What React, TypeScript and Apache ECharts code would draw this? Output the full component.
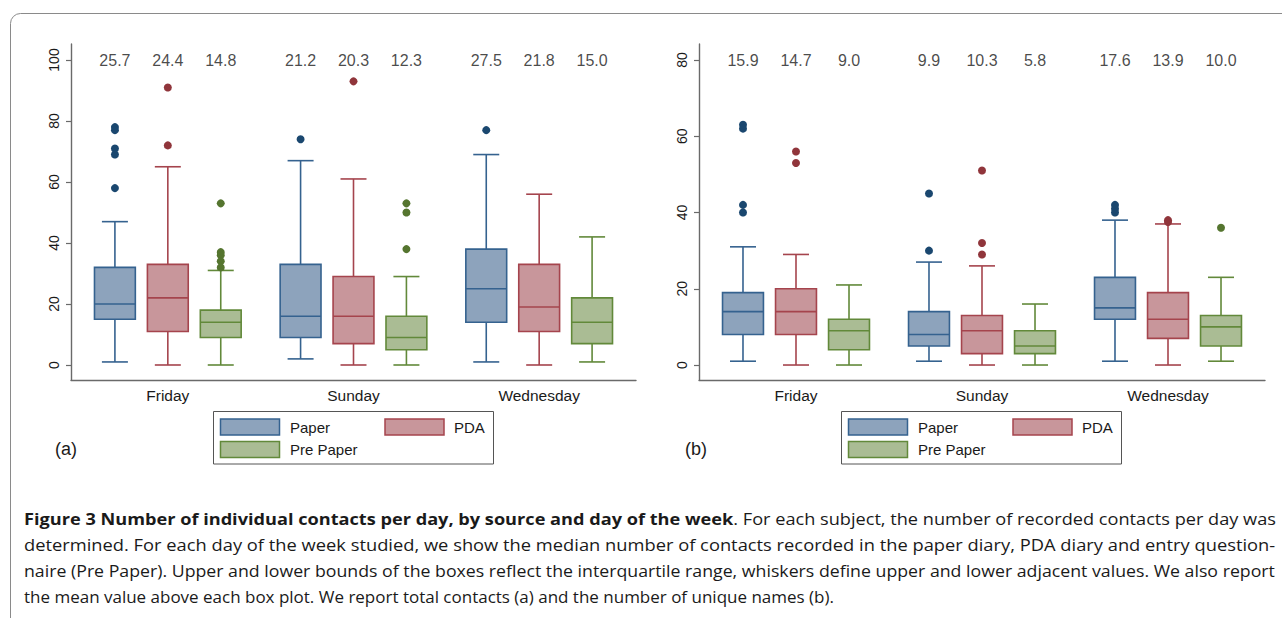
import React, { useEffect, useRef } from 'react';
import * as echarts from 'echarts';

const DAYS = ['Friday', 'Sunday', 'Wednesday'];
const SOURCES = ['Paper', 'PDA', 'Pre Paper'];

// Panel (a): total contacts. Per day (Friday, Sunday, Wednesday): [lower adjacent, Q1, median, Q3, upper adjacent]
const A_PAPER = [[1, 15, 20, 32, 47], [2, 9, 16, 33, 67], [1, 14, 25, 38, 69]];
const A_PDA = [[0, 11, 22, 33, 65], [0, 7, 16, 29, 61], [0, 11, 19, 33, 56]];
const A_PRE = [[0, 9, 14, 18, 31], [0, 5, 9, 16, 29], [1, 7, 14, 22, 42]];
const A_PAPER_OUT = [[78, 77, 71, 69, 58], [74], [77]];
const A_PDA_OUT = [[91, 72], [93], []];
const A_PRE_OUT = [[53, 37, 36, 34, 32], [53, 50, 38], []];
const A_PAPER_MEAN = [25.7, 21.2, 27.5];
const A_PDA_MEAN = [24.4, 20.3, 21.8];
const A_PRE_MEAN = [14.8, 12.3, 15.0];

// Panel (b): number of unique names
const B_PAPER = [[1, 8, 14, 19, 31], [1, 5, 8, 14, 27], [1, 12, 15, 23, 38]];
const B_PDA = [[0, 8, 14, 20, 29], [0, 3, 9, 13, 26], [0, 7, 12, 19, 37]];
const B_PRE = [[0, 4, 9, 12, 21], [0, 3, 5, 9, 16], [1, 5, 10, 13, 23]];
const B_PAPER_OUT = [[63, 62, 42, 40], [45, 30], [42, 41, 40]];
const B_PDA_OUT = [[56, 53], [51, 32, 29], [38, 37.5]];
const B_PRE_OUT = [[], [], [36]];
const B_PAPER_MEAN = [15.9, 9.9, 17.6];
const B_PDA_MEAN = [14.7, 10.3, 13.9];
const B_PRE_MEAN = [9.0, 5.8, 10.0];

const Y_TICKS_A = [0, 20, 40, 60, 80, 100];
const Y_TICKS_B = [0, 20, 40, 60, 80];

const CAPTION_BOLD = 'Figure 3 Number of individual contacts per day, by source and day of the week';
const CAPTION_LINES = [
  '. For each subject, the number of recorded contacts per day was',
  'determined. For each day of the week studied, we show the median number of contacts recorded in the paper diary, PDA diary and entry question-',
  'naire (Pre Paper). Upper and lower bounds of the boxes reflect the interquartile range, whiskers define upper and lower adjacent values. We also report',
  'the mean value above each box plot. We report total contacts (a) and the number of unique names (b).',
];

const FILL = ['#8da3bc', '#c8969b', '#aabc94'];
const LINE = ['#35628f', '#a5444d', '#62893a'];
const DOT = ['#1a476f', '#90353b', '#55752f'];
const FONT = '"Liberation Sans", Arial, sans-serif';
const CAP_FONT = '"Open Sans", "Noto Sans", sans-serif';

const OFFSET = 0.285;
const BOX_W = 0.22;
const CAP_W = 0.14;

const renderBox = (k: number) => (_params: any, api: any) => {
  const x = api.value(0);
  const p = [1, 2, 3, 4, 5].map((d) => api.coord([x, api.value(d)]));
  const w = api.size([BOX_W, 0])[0];
  const c = api.size([CAP_W, 0])[0];
  const cx = p[0][0];
  const st = { stroke: LINE[k], lineWidth: 1.6, fill: 'none' };
  return {
    type: 'group',
    children: [
      { type: 'line', shape: { x1: cx, y1: p[0][1], x2: cx, y2: p[1][1] }, style: st },
      { type: 'line', shape: { x1: cx, y1: p[3][1], x2: cx, y2: p[4][1] }, style: st },
      { type: 'line', shape: { x1: cx - c / 2, y1: p[0][1], x2: cx + c / 2, y2: p[0][1] }, style: st },
      { type: 'line', shape: { x1: cx - c / 2, y1: p[4][1], x2: cx + c / 2, y2: p[4][1] }, style: st },
      {
        type: 'rect',
        shape: { x: cx - w / 2, y: p[3][1], width: w, height: p[1][1] - p[3][1] },
        style: { fill: FILL[k], stroke: LINE[k], lineWidth: 1.6 },
      },
      { type: 'line', shape: { x1: cx - w / 2, y1: p[2][1], x2: cx + w / 2, y2: p[2][1] }, style: st },
    ],
  };
};

function panelSeries(panel: number, boxes: number[][][], outs: number[][][], means: number[][], labelY: number) {
  const out: any[] = [];
  SOURCES.forEach((src, k) => {
    const off = (k - 1) * OFFSET;
    out.push({
      type: 'custom',
      name: src,
      xAxisIndex: panel,
      yAxisIndex: panel,
      data: boxes[k].map((b, i) => [i + off, ...b]),
      renderItem: renderBox(k),
      z: 2,
    });
    out.push({
      type: 'scatter',
      name: src,
      xAxisIndex: panel,
      yAxisIndex: panel,
      data: outs[k].flatMap((vals, i) => vals.map((v) => [i + off, v])),
      symbolSize: 8,
      itemStyle: { color: DOT[k], opacity: 1 },
      z: 3,
    });
    out.push({
      type: 'scatter',
      xAxisIndex: panel,
      yAxisIndex: panel,
      data: means[k].map((m, i) => [i + off, labelY, m]),
      symbolSize: 1,
      itemStyle: { color: 'rgba(0,0,0,0)' },
      silent: true,
      label: {
        show: true,
        position: 'inside',
        formatter: (p: any) => Number(p.value[2]).toFixed(1),
        fontSize: 16,
        fontFamily: FONT,
        color: '#1a1a1a',
      },
      z: 4,
    });
  });
  return out;
}

function xAxis(gridIndex: number) {
  return {
    type: 'value',
    gridIndex,
    min: -0.5215,
    max: 2.5215,
    axisLine: { show: true, onZero: false, lineStyle: { color: '#6a6a6a', width: 1.4 } },
    axisTick: { show: false },
    splitLine: { show: false },
    axisLabel: {
      customValues: [0, 1, 2],
      formatter: (v: number) => DAYS[Math.round(v)] ?? '',
      margin: 7,
      fontSize: 15.5,
      fontFamily: FONT,
      color: '#1a1a1a',
    },
  };
}

function yAxis(gridIndex: number, min: number, max: number, ticks: number[]) {
  return {
    type: 'value',
    gridIndex,
    min,
    max,
    axisLine: { show: true, onZero: false, lineStyle: { color: '#6a6a6a', width: 1.4 } },
    axisTick: { show: true, length: 5, customValues: ticks, lineStyle: { color: '#6a6a6a', width: 1.2 } },
    splitLine: { show: false },
    axisLabel: {
      customValues: ticks,
      rotate: 90,
      margin: 10,
      fontSize: 14,
      fontFamily: FONT,
      color: '#1a1a1a',
    },
  };
}

function legendGraphics(dx: number, tag: string) {
  const t = (text: string, x: number, y: number, size: number) => ({
    type: 'text',
    x: x + dx,
    y,
    style: {
      text,
      fill: '#1a1a1a',
      font: size + 'px ' + FONT,
      align: 'left',
      verticalAlign: 'middle',
      textAlign: 'left',
      textVerticalAlign: 'middle',
    },
  });
  const sw = (k: number, x: number, y: number) => ({
    type: 'rect',
    shape: { x: x + dx, y, width: 59, height: 16 },
    style: { fill: FILL[k], stroke: LINE[k], lineWidth: 1.5 },
  });
  return [
    {
      type: 'rect',
      shape: { x: 213.5 + dx, y: 411.5, width: 280, height: 52.5 },
      style: { fill: '#fff', stroke: '#555', lineWidth: 1 },
    },
    sw(0, 220.5, 419),
    t(SOURCES[0], 290, 427.5, 15),
    sw(1, 385, 419),
    t(SOURCES[1], 454, 427.5, 15),
    sw(2, 220.5, 441.5),
    t(SOURCES[2], 290, 449.5, 15),
    t(tag, 55 + (dx === 0 ? 0 : 2), 449, 18),
  ];
}

function captionGraphics() {
  const canvas = document.createElement('canvas');
  const ctx = canvas.getContext('2d')!;
  const size = 16;
  const normalFont = `${size}px ${CAP_FONT}`;
  const boldFont = `bold ${size}px ${CAP_FONT}`;
  const left = 24;
  const fullW = 1252;
  const lastW = 810;
  const ys = [519, 545, 571, 597];
  const els: any[] = [];
  const textEl = (text: string, x: number, y: number, font: string, sx: number) => ({
    type: 'text',
    x,
    y,
    scaleX: sx,
    style: {
      text,
      fill: '#1a1a1a',
      font,
      align: 'left',
      verticalAlign: 'middle',
      textAlign: 'left',
      textVerticalAlign: 'middle',
    },
  });
  ctx.font = boldFont;
  const wb = ctx.measureText(CAPTION_BOLD).width;
  ctx.font = normalFont;
  const wn = ctx.measureText(CAPTION_LINES[0]).width;
  const s1 = fullW / (wb + wn);
  els.push(textEl(CAPTION_BOLD, left, ys[0], boldFont, s1));
  els.push(textEl(CAPTION_LINES[0], left + wb * s1, ys[0], normalFont, s1));
  for (let i = 1; i < 4; i++) {
    const w = ctx.measureText(CAPTION_LINES[i]).width;
    const target = i === 3 ? lastW : fullW;
    els.push(textEl(CAPTION_LINES[i], left, ys[i], normalFont, target / w));
  }
  return els;
}

export default function App() {
  const ref = useRef<HTMLDivElement>(null);
  useEffect(() => {
    if (!ref.current) return;
    const chart = echarts.init(ref.current, undefined, { renderer: 'svg' });
    const option: any = {
      animation: false,
      backgroundColor: '#ffffff',
      textStyle: { fontFamily: FONT },
      grid: [
        { left: 71, top: 44, width: 565, height: 336 },
        { left: 699, top: 44, width: 566, height: 336 },
      ],
      xAxis: [xAxis(0), xAxis(1)],
      yAxis: [yAxis(0, -4.92, 105.25, Y_TICKS_A), yAxis(1, -3.93, 84.2, Y_TICKS_B)],
      series: [
        ...panelSeries(0, [A_PAPER, A_PDA, A_PRE], [A_PAPER_OUT, A_PDA_OUT, A_PRE_OUT], [A_PAPER_MEAN, A_PDA_MEAN, A_PRE_MEAN], 100),
        ...panelSeries(1, [B_PAPER, B_PDA, B_PRE], [B_PAPER_OUT, B_PDA_OUT, B_PRE_OUT], [B_PAPER_MEAN, B_PDA_MEAN, B_PRE_MEAN], 80),
      ],
      graphic: [
        {
          type: 'rect',
          shape: { x: 10.5, y: 13.5, width: 1320, height: 700, r: 10 },
          style: { fill: 'none', stroke: '#8a8a8a', lineWidth: 1 },
          silent: true,
        },
        ...legendGraphics(0, '(a)'),
        ...legendGraphics(628, '(b)'),
        ...captionGraphics(),
      ],
    };
    chart.setOption(option);
    return () => chart.dispose();
  }, []);
  return (
    <div
      ref={ref}
      style={{ position: 'absolute', left: 0, top: 0, width: 1282, height: 618 }}
    />
  );
}
